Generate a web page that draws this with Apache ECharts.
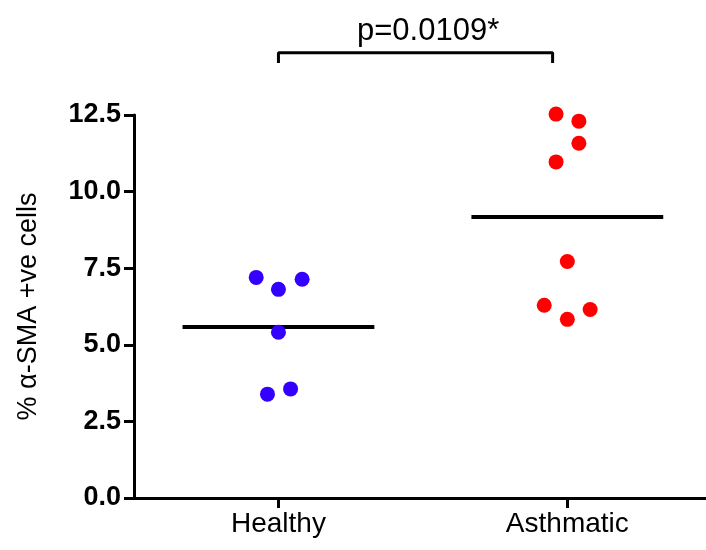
<!DOCTYPE html>
<html>
<head>
<meta charset="utf-8">
<script src="https://cdn.jsdelivr.net/npm/echarts@6/dist/echarts.min.js"></script>
<style>
html,body{margin:0;padding:0;background:#fff;}
#main{width:706px;height:550px;}
</style>
</head>
<body>
<div id="main"></div>
<script>
// 分组
var groups = ['Healthy', 'Asthmatic'];
// 数值
var healthyVals = [7.20, 6.81, 7.14, 5.41, 3.39, 3.56];
var healthyJitter = [-0.077, 0, 0.082, 0, -0.038, 0.042];
var asthmaVals = [12.53, 12.30, 11.58, 10.97, 7.72, 6.29, 5.83, 6.15];
var asthmaJitter = [-0.039, 0.04, 0.04, -0.039, 0, -0.08, 0, 0.079];
// 均值线
var means = [5.58, 9.17];
// y轴刻度
var yTicks = [0, 2.5, 5, 7.5, 10, 12.5];
var pText = 'p=0.0109*';

var myChart = echarts.init(document.getElementById('main'));

function toPoints(pos, vals, jit){
	var res = [];
	for (var i = 0; i < vals.length; i++) {
		res.push([pos + jit[i], vals[i]]);
	}
	return res;
}
function meanLine(pos, m){
	return [[pos - 0.332, m], [pos + 0.332, m]];
}

var font = 'Liberation Sans, Arial, sans-serif';
var option = {
	animation: false,
	title: {
		text: pText,
		left: 352,
		top: 11,
		textStyle: {fontFamily: font, fontSize: 31, fontWeight: 'normal', color: '#000'}
	},
	grid: {left: 134, right: 0, top: 115, bottom: 52},
	xAxis: {
		type: 'value',
		min: 0.5,
		max: 2.48,
		axisLine: {lineStyle: {color: '#000', width: 3}},
		axisTick: {show: true, customValues: [1, 2], length: 10, lineStyle: {color: '#000', width: 3}},
		axisLabel: {
			customValues: [1, 2],
			margin: 12,
			fontFamily: font,
			fontSize: 28,
			color: '#000',
			formatter: function (v) { return groups[Math.round(v) - 1]; }
		},
		splitLine: {show: false}
	},
	yAxis: {
		type: 'value',
		min: yTicks[0],
		max: yTicks[yTicks.length - 1],
		interval: 2.5,
		name: '% α-SMA +ve cells',
		nameLocation: 'middle',
		nameGap: 92,
		nameTextStyle: {fontFamily: font, fontSize: 27, color: '#000'},
		axisLine: {show: true, lineStyle: {color: '#000', width: 3}},
		axisTick: {show: true, length: 10, lineStyle: {color: '#000', width: 3}},
		axisLabel: {
			margin: 13,
			fontFamily: font,
			fontSize: 27,
			fontWeight: 'bold',
			color: '#000',
			formatter: function (v) { return v.toFixed(1); }
		},
		splitLine: {show: false}
	},
	series: [
		{
			type: 'line',
			data: meanLine(1, means[0]),
			symbol: 'none',
			lineStyle: {color: '#000', width: 4},
			z: 1
		},
		{
			type: 'line',
			data: meanLine(2, means[1]),
			symbol: 'none',
			lineStyle: {color: '#000', width: 4},
			z: 1
		},
		{
			type: 'scatter',
			data: toPoints(1, healthyVals, healthyJitter),
			symbolSize: 15,
			clip: false,
			itemStyle: {color: '#3300ff', opacity: 1},
			z: 3
		},
		{
			type: 'scatter',
			data: toPoints(2, asthmaVals, asthmaJitter),
			symbolSize: 15,
			clip: false,
			itemStyle: {color: '#ff0000', opacity: 1},
			z: 3
		},
		{
			// 显著性括号
			type: 'line',
			data: [[1, 14.2], [1, 14.53], [1.949, 14.53], [1.949, 14.2]],
			symbol: 'none',
			clip: false,
			lineStyle: {color: '#000', width: 3}
		}
	]
};
myChart.setOption(option);
</script>
</body>
</html>
